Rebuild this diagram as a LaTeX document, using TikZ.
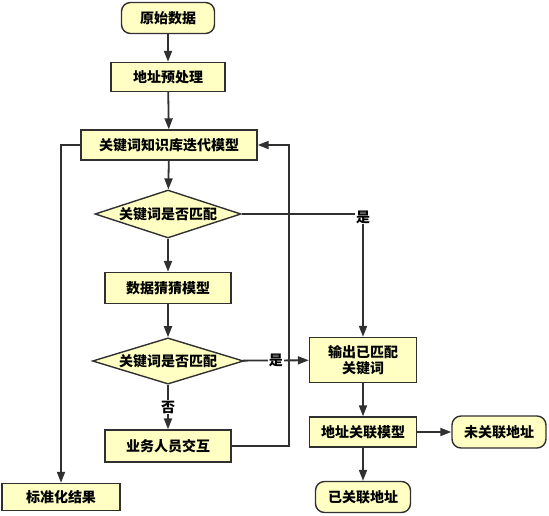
\documentclass[tikz,border=0pt]{standalone}
\usepackage{fontspec}
\usetikzlibrary{arrows.meta, positioning, shapes.geometric}
\newfontfamily\cjk{Noto Sans CJK SC}
\definecolor{flowfill}{HTML}{FFFFC4}
\definecolor{flowline}{HTML}{303030}

\begin{document}
\begin{tikzpicture}[
  x=1pt, y=-1pt,
  every node/.style={font=\cjk\bfseries\fontsize{14}{16}\selectfont},
  box/.style={rectangle, draw=flowline, fill=flowfill, line width=1.4pt, inner sep=0pt, align=center},
  term/.style={box, rounded corners=9pt},
  cond/.style={diamond, aspect=3, draw=flowline, fill=flowfill, line width=1.4pt, inner sep=0pt},
  line/.style={draw=flowline, line width=1.8pt, -{Triangle[length=11pt, width=8pt]}},
  tag/.style={fill=white, inner sep=1pt},
]
\useasboundingbox (0,0) rectangle (549,515);

% Input
\node[term, minimum width=93pt, minimum height=31pt] (raw) at (168, 18) {原始数据};
\node[box, minimum width=114pt, minimum height=29pt] (prep) at (168, 77) {地址预处理};

% Keyword model loop
\node[box, minimum width=176pt, minimum height=30pt] (kbase) at (169, 145) {关键词知识库迭代模型};
\node[cond, minimum width=146pt, minimum height=48pt] (match1) at (168, 214) {关键词是否匹配};
\node[box, minimum width=126pt, minimum height=31pt] (guess) at (168, 288) {数据猜猜模型};
\node[cond, minimum width=151pt, minimum height=42pt] (match2) at (168, 361) {关键词是否匹配};
\node[box, minimum width=126pt, minimum height=32pt] (staff) at (168, 446) {业务人员交互};
\node[box, minimum width=118pt, minimum height=27pt] (result) at (61, 497) {标准化结果};

% Association
\node[box, minimum width=107pt, minimum height=45pt] (output) at (363, 360) {输出已匹配\\关键词};
\node[box, minimum width=107pt, minimum height=30pt] (assoc) at (363, 432) {地址关联模型};
\node[term, minimum width=94pt, minimum height=32pt] (unlinked) at (499, 432) {未关联地址};
\node[term, minimum width=95pt, minimum height=31pt] (linked) at (363, 497) {已关联地址};

% Connectors
\draw[line] (raw) -- (prep);
\draw[line] (prep) -- (kbase);
\draw[line] (kbase) -- (match1);
\draw[line] (match1) -- (guess);
\draw[line] (guess) -- (match2);
\draw[line] (match2) -- node[tag] {否} (staff);
\draw[line] (match2) -- node[tag] {是} (output);
\draw[line] (match1.east) -| node[tag, pos=0.5, yshift=-3pt] {是} (output.north);
\draw[line] (staff.east) -| ([xshift=31pt]kbase.east) -- (kbase.east);
\draw[line] (kbase.west) -| (result.north);
\draw[line] (output) -- (assoc);
\draw[line] (assoc) -- (unlinked);
\draw[line] (assoc) -- (linked);

\end{tikzpicture}
\end{document}
